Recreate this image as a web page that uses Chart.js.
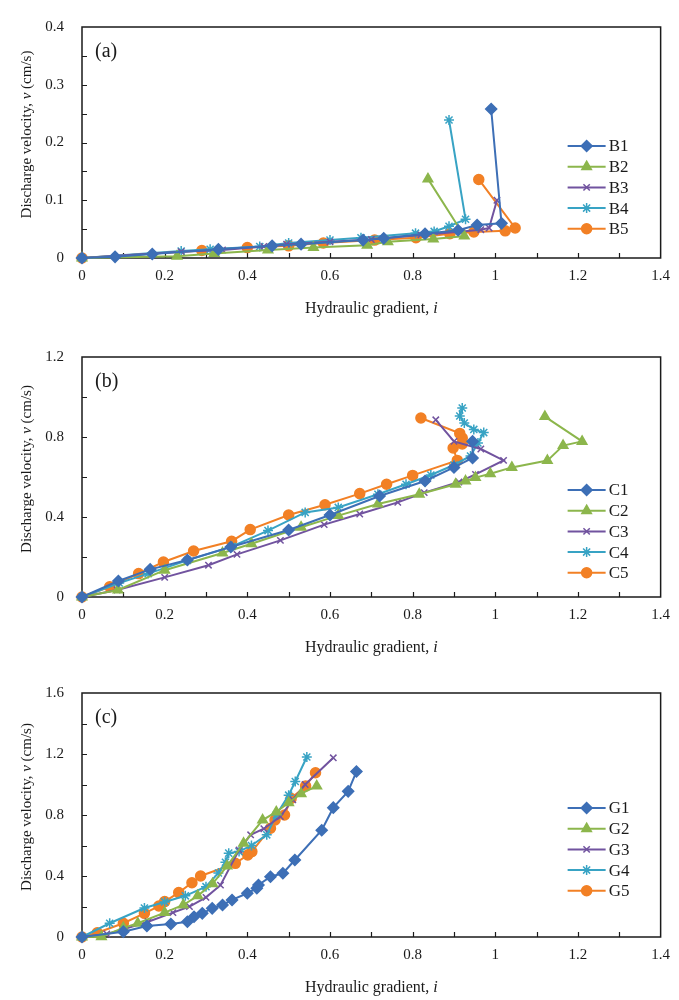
<!DOCTYPE html>
<html>
<head>
<meta charset="utf-8">
<script src="https://cdn.jsdelivr.net/npm/chart.js@4.4.0/dist/chart.umd.min.js"></script>
<style>
  body { margin: 0; background: #fff; width: 679px; height: 1000px; position: relative; overflow: hidden; }
  canvas { position: absolute; left: 0; }
</style>
</head>
<body>
<canvas id="chartA" width="679" height="330" style="top:0px"></canvas>
<canvas id="chartB" width="679" height="335" style="top:330px"></canvas>
<canvas id="chartC" width="679" height="335" style="top:665px"></canvas>
<script>
// panel (a) - B series
const namesA = ["B1", "B2", "B3", "B4", "B5"];
const b1I = [0, 0.08, 0.17, 0.33, 0.46, 0.53, 0.68, 0.73, 0.83, 0.91, 0.956, 1.015, 0.99];
const b1V = [0, 0.002, 0.007, 0.015, 0.021, 0.024, 0.031, 0.034, 0.042, 0.048, 0.057, 0.06, 0.258];
const b2I = [0, 0.23, 0.32, 0.45, 0.56, 0.69, 0.74, 0.85, 0.925, 0.837];
const b2V = [0, 0.003, 0.008, 0.014, 0.018, 0.022, 0.028, 0.033, 0.038, 0.137];
const b3I = [0, 0.24, 0.34, 0.44, 0.495, 0.6, 0.7, 0.82, 0.92, 0.965, 0.985, 1.004];
const b3V = [0, 0.011, 0.014, 0.02, 0.024, 0.028, 0.032, 0.04, 0.046, 0.049, 0.052, 0.1];
const b4I = [0, 0.24, 0.31, 0.43, 0.5, 0.6, 0.675, 0.807, 0.852, 0.888, 0.928, 0.888];
const b4V = [0, 0.012, 0.015, 0.02, 0.026, 0.031, 0.035, 0.043, 0.046, 0.055, 0.067, 0.239];
const b5I = [0, 0.29, 0.4, 0.5, 0.584, 0.708, 0.808, 0.89, 0.948, 1.024, 1.048, 0.96];
const b5V = [0, 0.013, 0.018, 0.021, 0.026, 0.031, 0.035, 0.042, 0.045, 0.047, 0.052, 0.136];

// panel (b) - C series
const namesB = ["C1", "C2", "C3", "C4", "C5"];
const c1I = [0, 0.088, 0.165, 0.255, 0.36, 0.5, 0.6, 0.72, 0.83, 0.9, 0.945, 0.945];
const c1V = [0, 0.08, 0.138, 0.185, 0.25, 0.335, 0.41, 0.505, 0.58, 0.648, 0.695, 0.778];
const c2I = [0, 0.087, 0.2, 0.34, 0.41, 0.53, 0.62, 0.716, 0.816, 0.904, 0.928, 0.952, 0.988, 1.04, 1.126, 1.164, 1.21, 1.12];
const c2V = [0, 0.035, 0.134, 0.22, 0.266, 0.349, 0.407, 0.465, 0.514, 0.564, 0.58, 0.597, 0.616, 0.648, 0.682, 0.757, 0.778, 0.902];
const c3I = [0, 0.085, 0.2, 0.306, 0.375, 0.48, 0.586, 0.672, 0.764, 0.828, 0.912, 0.952, 1.02, 0.965, 0.9, 0.856];
const c3V = [0, 0.035, 0.098, 0.159, 0.213, 0.283, 0.362, 0.415, 0.473, 0.522, 0.575, 0.613, 0.683, 0.74, 0.778, 0.886];
const c4I = [0, 0.09, 0.16, 0.255, 0.363, 0.45, 0.54, 0.62, 0.716, 0.784, 0.844, 0.9, 0.94, 0.958, 0.972, 0.948, 0.925, 0.914, 0.92];
const c4V = [0, 0.07, 0.117, 0.183, 0.253, 0.332, 0.423, 0.448, 0.514, 0.564, 0.61, 0.66, 0.705, 0.77, 0.822, 0.838, 0.87, 0.905, 0.945];
const c5I = [0, 0.067, 0.137, 0.197, 0.27, 0.362, 0.407, 0.5, 0.588, 0.672, 0.737, 0.8, 0.908, 0.898, 0.92, 0.92, 0.914, 0.82];
const c5V = [0, 0.051, 0.117, 0.175, 0.23, 0.279, 0.337, 0.41, 0.461, 0.517, 0.564, 0.608, 0.683, 0.745, 0.765, 0.795, 0.818, 0.895];

// panel (c) - G series
const namesC = ["G1", "G2", "G3", "G4", "G5"];
const g1I = [0, 0.1, 0.157, 0.215, 0.255, 0.271, 0.291, 0.315, 0.34, 0.363, 0.4, 0.423, 0.427, 0.456, 0.486, 0.515, 0.58, 0.608, 0.644, 0.664];
const g1V = [0, 0.035, 0.072, 0.085, 0.1, 0.133, 0.155, 0.188, 0.21, 0.243, 0.287, 0.32, 0.341, 0.395, 0.418, 0.505, 0.7, 0.848, 0.955, 1.085];
const g2I = [0, 0.047, 0.1, 0.135, 0.2, 0.245, 0.28, 0.316, 0.351, 0.391, 0.437, 0.47, 0.5, 0.53, 0.568];
const g2V = [0, 0.002, 0.06, 0.09, 0.16, 0.21, 0.27, 0.35, 0.465, 0.614, 0.767, 0.82, 0.88, 0.94, 0.99];
const g3I = [0, 0.06, 0.1, 0.16, 0.22, 0.26, 0.3, 0.335, 0.38, 0.408, 0.44, 0.48, 0.51, 0.54, 0.608];
const g3V = [0, 0.02, 0.05, 0.1, 0.16, 0.2, 0.26, 0.34, 0.57, 0.67, 0.71, 0.79, 0.9, 1.0, 1.175];
const g4I = [0, 0.067, 0.151, 0.2, 0.25, 0.3, 0.33, 0.347, 0.355, 0.38, 0.41, 0.447, 0.47, 0.5, 0.516, 0.544];
const g4V = [0, 0.09, 0.19, 0.23, 0.27, 0.33, 0.42, 0.49, 0.55, 0.56, 0.6, 0.67, 0.8, 0.93, 1.02, 1.18];
const g5I = [0, 0.037, 0.1, 0.151, 0.186, 0.2, 0.234, 0.266, 0.287, 0.371, 0.401, 0.411, 0.456, 0.467, 0.49, 0.506, 0.541, 0.565];
const g5V = [0, 0.028, 0.09, 0.155, 0.203, 0.232, 0.291, 0.356, 0.4, 0.483, 0.538, 0.56, 0.713, 0.767, 0.8, 0.909, 0.99, 1.077];

// styles
const colors = ["#3d6fb6", "#8cb64c", "#71539f", "#38a3c4", "#f28025"];
const markers = ["rectRot", "triangle", "crossRot", "star", "circle"];
const markerSize = [5.5, 5.5, 4.5, 5, 5];
const serif = '"Liberation Serif", "Times New Roman", serif';

Chart.defaults.font.family = serif;
Chart.defaults.color = "#1a1a1a";

function pts(xs, ys) {
    return xs.map((x, k) => ({ x: x, y: ys[k] }));
}

function fmt(v) {
    return String(Math.round(v * 100) / 100);
}

// draw text made of pieces, some italic, centred at x
function drawMixed(ctx, parts, cx, cy, size) {
    let total = 0;
    parts.forEach(p => {
        ctx.font = (p.it ? "italic " : "") + size + "px " + serif;
        p.w = ctx.measureText(p.t).width;
        total += p.w;
    });
    let x = cx - total / 2;
    ctx.textAlign = "left";
    ctx.textBaseline = "middle";
    parts.forEach(p => {
        ctx.font = (p.it ? "italic " : "") + size + "px " + serif;
        ctx.fillText(p.t, x, cy);
        x += p.w;
    });
}

const framePlugin = {
    id: "frame",
    beforeDatasetsDraw(chart) {
        const ctx = chart.ctx;
        const a = chart.chartArea;
        const xs = chart.scales.x, ys = chart.scales.y;
        const o = chart.options.plugins.frame;
        ctx.save();
        ctx.strokeStyle = "#1a1a1a";
        ctx.lineWidth = 1.5;
        ctx.strokeRect(a.left, a.top, a.right - a.left, a.bottom - a.top);
        ctx.lineWidth = 1.2;
        ctx.beginPath();
        for (let v = 0.1; v < 1.4 - 1e-6; v += 0.1) {
            const px = Math.round(xs.getPixelForValue(v)) + 0.5;
            ctx.moveTo(px, a.bottom);
            ctx.lineTo(px, a.bottom - 5);
        }
        for (let v = o.yMinor; v < o.yMax - 1e-6; v += o.yMinor) {
            const py = Math.round(ys.getPixelForValue(v)) + 0.5;
            ctx.moveTo(a.left, py);
            ctx.lineTo(a.left + 5, py);
        }
        ctx.stroke();
        ctx.restore();
    },
    afterDraw(chart) {
        const ctx = chart.ctx;
        const a = chart.chartArea;
        const o = chart.options.plugins.frame;
        ctx.save();
        ctx.fillStyle = "#1a1a1a";

        // panel label
        ctx.font = "20px " + serif;
        ctx.textAlign = "left";
        ctx.textBaseline = "middle";
        ctx.fillText(o.label, a.left + 13, a.top + 25);

        // x title
        drawMixed(ctx, [{ t: "Hydraulic gradient, " }, { t: "i", it: true }], (a.left + a.right) / 2, a.bottom + 51, 16);

        // y title
        ctx.save();
        ctx.translate(27, (a.top + a.bottom) / 2 - 8);
        ctx.rotate(-Math.PI / 2);
        drawMixed(ctx, [{ t: "Discharge velocity, " }, { t: "v", it: true }, { t: " (cm/s)" }], 0, 0, 15);
        ctx.restore();

        // legend inside plot
        chart.data.datasets.forEach((ds, k) => {
            const y = a.top + o.legendTop + k * 20.7;
            const x0 = a.right - 93, x1 = a.right - 55;
            ctx.strokeStyle = ds.borderColor;
            ctx.fillStyle = ds.borderColor;
            ctx.lineWidth = 2;
            ctx.beginPath();
            ctx.moveTo(x0, y);
            ctx.lineTo(x1, y);
            ctx.stroke();
            ctx.lineWidth = 1.5;
            Chart.helpers.drawPoint(ctx, { pointStyle: ds.pointStyle, radius: ds.pointRadius, rotation: 0, borderWidth: 1.5 }, (x0 + x1) / 2, y);
            ctx.fillStyle = "#1a1a1a";
            ctx.font = "17px " + serif;
            ctx.textAlign = "left";
            ctx.textBaseline = "middle";
            ctx.fillText(ds.label, x1 + 3, y + 1);
        });
        ctx.restore();
    }
};

function makePanel(id, names, xsList, ysList, p) {
    const datasets = names.map((n, k) => ({
        label: n,
        data: pts(xsList[k], ysList[k]),
        borderColor: colors[k],
        backgroundColor: colors[k],
        borderWidth: 2,
        pointStyle: markers[k],
        pointRadius: markerSize[k],
        pointBorderWidth: 1.5,
        pointHoverRadius: markerSize[k],
        tension: 0,
        clip: false
    }));
    new Chart(document.getElementById(id), {
        type: "line",
        data: { datasets: datasets },
        options: {
            responsive: false,
            animation: false,
            layout: { padding: { top: p.padTop, right: 14, left: 0, bottom: 0 } },
            plugins: {
                legend: { display: false },
                tooltip: { enabled: false },
                frame: { label: p.label, yMax: p.yMax, yMinor: p.yMinor, legendTop: p.legendTop }
            },
            scales: {
                x: {
                    type: "linear",
                    min: 0,
                    max: 1.4,
                    grid: { display: false, drawTicks: false },
                    border: { display: false },
                    ticks: { stepSize: 0.2, padding: 9, font: { size: 15 }, color: "#1a1a1a", maxRotation: 0, autoSkip: false, callback: v => fmt(v) },
                    afterFit: s => { s.height = p.xHeight; }
                },
                y: {
                    type: "linear",
                    min: 0,
                    max: p.yMax,
                    grid: { display: false, drawTicks: false },
                    border: { display: false },
                    ticks: { stepSize: p.yStep, padding: 18, font: { size: 15 }, color: "#1a1a1a", callback: v => fmt(v) },
                    afterFit: s => { s.width = 82; }
                }
            }
        },
        plugins: [framePlugin]
    });
}

makePanel("chartA", namesA, [b1I, b2I, b3I, b4I, b5I], [b1V, b2V, b3V, b4V, b5V],
    { label: "(a)", yMax: 0.4, yStep: 0.1, yMinor: 0.05, padTop: 16, xHeight: 72, legendTop: 119 });
makePanel("chartB", namesB, [c1I, c2I, c3I, c4I, c5I], [c1V, c2V, c3V, c4V, c5V],
    { label: "(b)", yMax: 1.2, yStep: 0.4, yMinor: 0.2, padTop: 25, xHeight: 68, legendTop: 133 });
makePanel("chartC", namesC, [g1I, g2I, g3I, g4I, g5I], [g1V, g2V, g3V, g4V, g5V],
    { label: "(c)", yMax: 1.6, yStep: 0.4, yMinor: 0.2, padTop: 28, xHeight: 63, legendTop: 115 });
</script>
</body>
</html>
